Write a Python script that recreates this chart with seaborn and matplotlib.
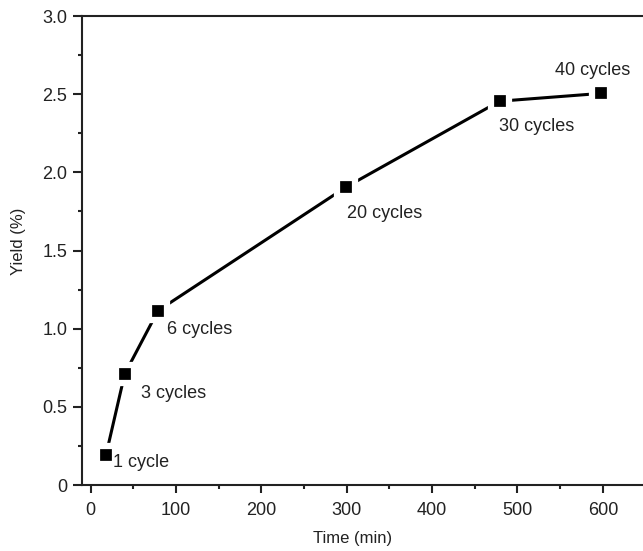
import matplotlib
matplotlib.use("Agg")
import matplotlib.pyplot as plt
import seaborn as sns
import pandas as pd
from matplotlib.ticker import MultipleLocator, FuncFormatter

time_min = [18, 40, 79, 299, 479, 598]
yield_pct = [0.19, 0.71, 1.115, 1.905, 2.455, 2.505]
labels = ["1 cycle", "3 cycles", "6 cycles", "20 cycles", "30 cycles", "40 cycles"]
label_offsets_px = [(7, -7), (16, -19), (9, -19), (1, -26), (-1, -25), (-46, 23)]

sns.set_style("ticks")
plt.rcParams['font.family'] = ['Liberation Sans', 'DejaVu Sans']

df = pd.DataFrame({"Time (min)": time_min, "Yield (%)": yield_pct})

fig = plt.figure(figsize=(6.43, 5.51), dpi=100)
ax = fig.add_axes([82/643, 1-485/551, 1-82/643, (485-16)/551])

sns.lineplot(data=df, x="Time (min)", y="Yield (%)", ax=ax, color="black",
             linewidth=2.2, marker="s", markersize=13, markerfacecolor="black",
             markeredgecolor="white", markeredgewidth=4.5, zorder=3)

for x, y, t, (dx, dy) in zip(time_min, yield_pct, labels, label_offsets_px):
    ax.annotate(t, (x, y), xytext=(dx, dy), textcoords="offset pixels",
                ha="left", va="center", fontsize=13, color="#222222")

ax.set_xlim(-10, 647)
ax.set_ylim(0, 3.0)
ax.xaxis.set_major_locator(MultipleLocator(100))
ax.xaxis.set_minor_locator(MultipleLocator(50))
ax.yaxis.set_major_locator(MultipleLocator(0.5))
ax.yaxis.set_minor_locator(MultipleLocator(0.25))
ax.yaxis.set_major_formatter(FuncFormatter(lambda v, p: "0" if abs(v) < 1e-9 else f"{v:.1f}"))

ax.spines['right'].set_visible(False)
for s in ['left', 'bottom', 'top']:
    ax.spines[s].set_linewidth(1.5)
    ax.spines[s].set_color("#222222")

ax.tick_params(axis='both', which='major', width=1.5, labelsize=13,
               colors="#222222")
ax.tick_params(axis='y', which='major', length=6.5, pad=4)
ax.tick_params(axis='x', which='major', length=6, pad=6)
ax.tick_params(axis='both', which='minor', length=3, width=1.5, colors="#222222")

ax.set_xlabel("Time (min)", fontsize=12, color="#222222", va="center")
ax.set_ylabel("Yield (%)", fontsize=12, color="#222222", va="center")
ax.xaxis.set_label_coords((353-82)/561, (485-538)/469)
ax.yaxis.set_label_coords((18-82)/561, (485-241)/469)

fig.savefig("out.png", dpi=100)
